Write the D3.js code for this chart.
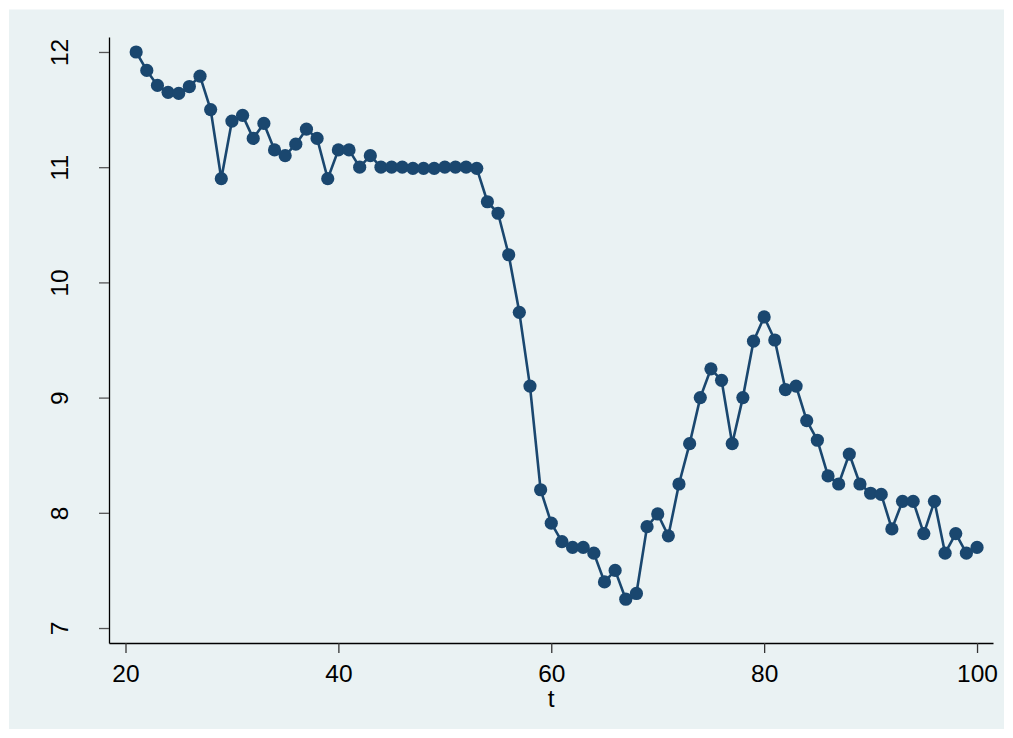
<!DOCTYPE html>
<html>
<head>
<meta charset="utf-8">
<script src="https://cdn.jsdelivr.net/npm/d3@7"></script>
<style>
html,body{margin:0;padding:0;background:#fff;}
svg{display:block;}
text{font-family:"Liberation Sans",Arial,Helvetica,sans-serif;fill:#000;}
</style>
</head>
<body>
<svg id="chart" width="1013" height="738"></svg>
<script>
(function(){
const tValues = d3.range(21, 101);
const yValues = [
  12.0, 11.84, 11.71, 11.65, 11.64, 11.70, 11.79, 11.50, 10.90, 11.40,
  11.45, 11.25, 11.38, 11.15, 11.10, 11.20, 11.33, 11.25, 10.90, 11.15,
  11.15, 11.00, 11.10, 11.00, 11.00, 11.00, 10.99, 10.99, 10.99, 11.00,
  11.00, 11.00, 10.99, 10.70, 10.60, 10.24, 9.74, 9.10, 8.20, 7.91,
  7.75, 7.70, 7.70, 7.65, 7.40, 7.50, 7.25, 7.30, 7.88, 7.99,
  7.80, 8.25, 8.60, 9.00, 9.25, 9.15, 8.60, 9.00, 9.49, 9.70,
  9.50, 9.07, 9.10, 8.80, 8.63, 8.32, 8.25, 8.51, 8.25, 8.17,
  8.16, 7.86, 8.10, 8.10, 7.82, 8.10, 7.65, 7.82, 7.65, 7.70
];
const xTicks = [20, 40, 60, 80, 100];
const yTicks = [7, 8, 9, 10, 11, 12];
const xTitle = "t";

const data = tValues.map((t, i) => ({t, y: yValues[i]}));

const svg = d3.select("#chart");
svg.append("rect").attr("x", 9).attr("y", 9.5).attr("width", 995).attr("height", 719.5).attr("fill", "#eaf2f3");

const mLeft = 109, mRight = 993, mTop = 37, mBottom = 643;
const x = d3.scaleLinear().domain([18.45, 101.5]).range([mLeft, mRight]);
const y = d3.scaleLinear().domain([6.87, 12.13]).range([mBottom, mTop]);

const xAxis = svg.append("g").attr("transform", `translate(0,${mBottom})`)
  .call(d3.axisBottom(x).tickValues(xTicks).tickFormat(d3.format("d")).tickSize(10).tickSizeOuter(0));
xAxis.select(".domain").attr("stroke", "#000").attr("stroke-width", 1.3);
xAxis.selectAll(".tick line").attr("stroke", "#333").attr("stroke-width", 1.3);
xAxis.selectAll(".tick text").attr("font-size", 24.5).attr("dy", null).attr("y", 39);

const yAxis = svg.append("g").attr("transform", `translate(${mLeft},0)`)
  .call(d3.axisLeft(y).tickValues(yTicks).tickFormat(d3.format("d")).tickSize(10).tickSizeOuter(0));
yAxis.select(".domain").attr("stroke", "#000").attr("stroke-width", 1.3);
yAxis.selectAll(".tick line").attr("stroke", "#555").attr("stroke-width", 1.3);
yAxis.selectAll(".tick text")
  .attr("font-size", 24.5)
  .attr("x", null).attr("dy", null)
  .attr("text-anchor", "middle")
  .attr("transform", "translate(-41,0) rotate(-90)");
svg.selectAll(".tick text").attr("fill", "#000").style("font-family", '"Liberation Sans",Arial,sans-serif');

svg.append("text").attr("x", (x(20)+x(100))/2).attr("y", 707)
  .attr("text-anchor", "middle").attr("font-size", 24.5).text(xTitle);

const line = d3.line().x(d => x(d.t)).y(d => y(d.y));
svg.append("path").datum(data).attr("d", line).attr("fill", "none")
  .attr("stroke", "#1a476f").attr("stroke-width", 2.6).attr("stroke-linejoin", "round");
svg.append("g").selectAll("circle").data(data).join("circle")
  .attr("cx", d => x(d.t)).attr("cy", d => y(d.y)).attr("r", 6.6).attr("fill", "#1a476f");
})();
</script>
</body>
</html>
